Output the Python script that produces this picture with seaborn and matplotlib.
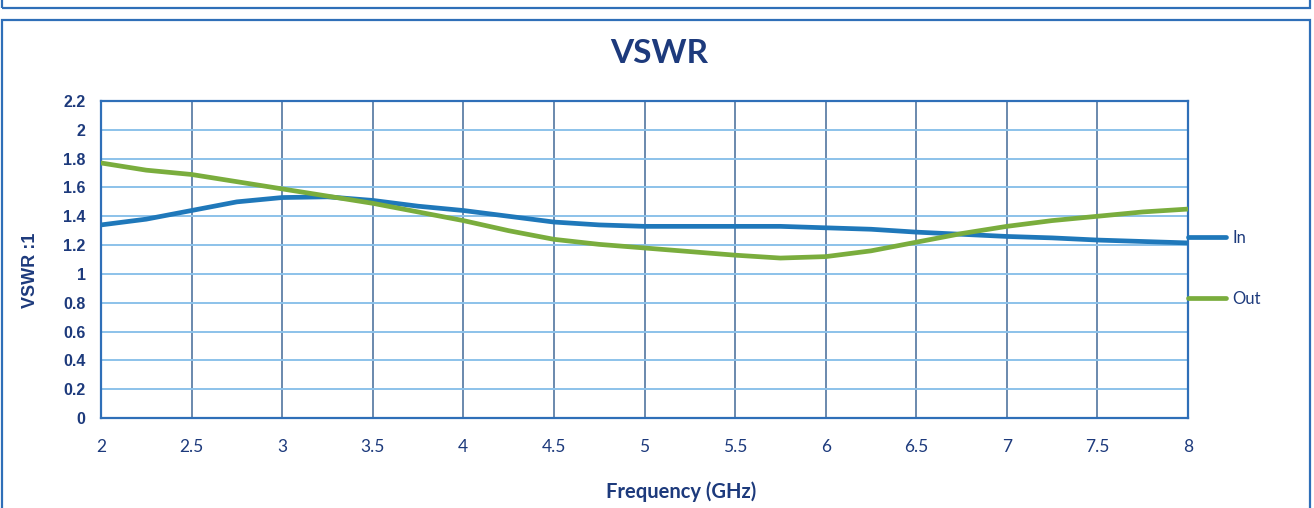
import numpy as np
import pandas as pd
import matplotlib
matplotlib.use("Agg")
import matplotlib.pyplot as plt
from matplotlib.patches import Rectangle
from matplotlib.lines import Line2D
import seaborn as sns

freq = [2, 2.25, 2.5, 2.75, 3, 3.25, 3.5, 3.75, 4, 4.25, 4.5, 4.75, 5,
        5.25, 5.5, 5.75, 6, 6.25, 6.5, 6.75, 7, 7.25, 7.5, 7.75, 8]
vswr_in = [1.34, 1.38, 1.44, 1.50, 1.53, 1.535, 1.51, 1.47, 1.44, 1.40, 1.36,
           1.34, 1.33, 1.33, 1.33, 1.33, 1.32, 1.31, 1.29, 1.275, 1.26, 1.25,
           1.235, 1.225, 1.215]
vswr_out = [1.77, 1.72, 1.69, 1.64, 1.59, 1.54, 1.49, 1.43, 1.37, 1.30, 1.24,
            1.205, 1.18, 1.155, 1.13, 1.11, 1.12, 1.16, 1.22, 1.28, 1.33, 1.37,
            1.40, 1.43, 1.45]
series_names = ["In", "Out"]
x_ticks = [2, 2.5, 3, 3.5, 4, 4.5, 5, 5.5, 6, 6.5, 7, 7.5, 8]
x_tick_labels = ["2", "2.5", "3", "3.5", "4", "4.5", "5", "5.5", "6", "6.5", "7", "7.5", "8"]
y_ticks = [0, 0.2, 0.4, 0.6, 0.8, 1, 1.2, 1.4, 1.6, 1.8, 2, 2.2]
y_tick_labels = ["0", "0.2", "0.4", "0.6", "0.8", "1", "1.2", "1.4", "1.6", "1.8", "2", "2.2"]

df = pd.DataFrame({
    "Frequency": freq * 2,
    "VSWR": vswr_in + vswr_out,
    "Port": [series_names[0]] * len(freq) + [series_names[1]] * len(freq),
})

sns.set_style("white")
plt.rcParams["font.family"] = ["Lato", "DejaVu Sans"]

navy = "#1d3a7c"
blue_line = "#1f78ba"
green_line = "#7aad3d"
frame_blue = "#2f6fb8"

fig = plt.figure(figsize=(13.14, 5.08), dpi=100)
fig.patch.set_facecolor("white")
ax = fig.add_axes([101 / 1314, 90 / 508, 1087 / 1314, 317 / 508])

sns.lineplot(data=df, x="Frequency", y="VSWR", hue="Port",
             palette={"In": blue_line, "Out": green_line},
             linewidth=3.4, ax=ax, legend=False, zorder=3)

ax.set_xlim(2, 8)
ax.set_ylim(0, 2.2)
ax.set_xticks(x_ticks)
ax.set_xticklabels(x_tick_labels)
ax.set_yticks(y_ticks)
ax.set_yticklabels(y_tick_labels)

ax.yaxis.grid(True, color="#8cc2ea", linewidth=1.4)
ax.xaxis.grid(True, color="#52759f", linewidth=1.2)
ax.set_axisbelow(True)
for s in ax.spines.values():
    s.set_color(frame_blue)
    s.set_linewidth(1.6)

ax.tick_params(axis="both", length=0)
ax.tick_params(axis="x", pad=15, labelsize=12.5, labelcolor=navy)
ax.tick_params(axis="y", pad=11, labelsize=11.5, labelcolor=navy)
for lbl in ax.get_yticklabels():
    lbl.set_fontfamily(["Liberation Sans", "DejaVu Sans"])
    lbl.set_fontweight("bold")

ax.set_xlabel("Frequency (GHz)", fontsize=14.5, fontweight="bold", color=navy)
ax.xaxis.set_label_coords(0.534, -0.2)
ax.set_ylabel("VSWR :1", fontsize=13, fontweight="bold", color=navy,
              fontfamily=["Liberation Sans", "DejaVu Sans"])
ax.yaxis.set_label_coords(-0.057, 0.467)

fig.text(0.502, 0.894, "VSWR", ha="center", va="center", fontsize=24,
         fontweight="bold", color=navy)

handles = [Line2D([], [], color=blue_line, linewidth=3.4),
           Line2D([], [], color=green_line, linewidth=3.4)]
leg = ax.legend(handles, series_names, loc="center left",
                bbox_to_anchor=(1.0, 0.473), frameon=False, fontsize=12,
                handlelength=2.3, handletextpad=0.35, labelspacing=2.7,
                borderpad=0, borderaxespad=0)
for t in leg.get_texts():
    t.set_color(navy)

# outer frames
fig.add_artist(Rectangle((2 / 1314, -0.05), 1308 / 1314, (508 - 20) / 508 + 0.05,
                         transform=fig.transFigure, fill=False,
                         edgecolor=frame_blue, linewidth=1.6))
fig.add_artist(Rectangle((2 / 1314, 1 - 8 / 508), 1308 / 1314, 0.05,
                         transform=fig.transFigure, fill=False,
                         edgecolor=frame_blue, linewidth=1.6))

fig.savefig("out.png", dpi=100, facecolor="white")
